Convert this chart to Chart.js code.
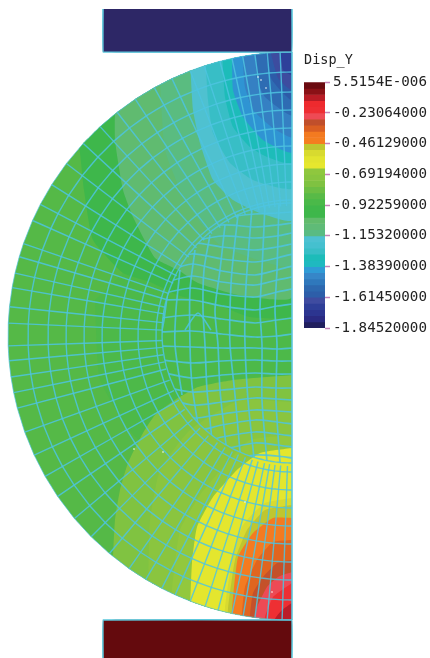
<!DOCTYPE html>
<html>
<head>
<meta charset="utf-8">
<script src="https://cdn.jsdelivr.net/npm/chart.js@4"></script>
<style>
  html, body { margin: 0; background: #fff; }
  canvas { position: absolute; }
  #field { left: 0; top: 0; }
  #legend { left: 300px; top: 40px; }
</style>
</head>
<body>
<canvas id="field" width="430" height="658"></canvas>
<canvas id="legend" width="130" height="300"></canvas>
<script>
// model frame: origin at disc centre, x to the right, y up
const discRadius = [284];
const arcRadii = [264, 244, 226, 208, 190, 172, 154, 136];
const nodeAngles = [-90, -88, -85, -82.5, -80.1, -77.8, -74.9, -72.2, -69, -65.7, -62.7, -59, -55, -50, -45, -40, -34.4, -29.6, -24.8, -19.8, -14.7, -11.5, -8.3, -5, -2,
  2.6, 5.9, 9.8, 12.8, 16.2, 19, 24, 27.6, 32.2, 37.4, 42.7, 47.5, 52, 56.5, 61, 65, 69, 72, 75.3, 77.8, 80, 82.5, 85, 87.6, 90];
const spokeInner = [130];

const coreCircle = [130, 3]; // radius, centre y
const coreRowX = [-132, -100, -70, -37, -15, 0];
const coreRowY = [
  [105, 112, 118, 122, 123, 124],
  [96, 104, 111, 109, 111, 113],
  [90, 95, 100, 98, 100, 103],
  [84, 93, 89, 86, 89, 92],
  [72, 82, 77, 74, 78, 82],
  [62, 72, 65, 61, 66, 70],
  [52, 60, 54, 51, 56, 59],
  [42, 48, 42, 39, 44, 47],
  [36, 36, 30, 26, 30, 32],
  [18, 21, 17, 13, 16, 18],
  [4, 5, 2, -1, 0, 2],
  [-10, -11, -12, -12, -13, -12],
  [-24, -27, -25, -24, -25, -25],
  [-36, -42, -39, -37, -38, -38],
  [-50, -56, -54, -51, -52, -52],
  [-60, -69, -66, -62, -63, -64],
  [-72, -82, -78, -74, -75, -76],
  [-84, -95, -89, -84, -86, -88],
  [-96, -108, -101, -96, -98, -100],
  [-100, -112, -113, -107, -109, -111],
  [-110, -120, -125, -119, -120, -122]
];
const coreCols = [
  [[-124, 46], [-128, 16], [-132, -9], [-127, -29], [-120, -49]],
  [[-112, 66], [-116, 26], [-117, -9], [-110, -59]],
  [[-97, 86], [-102, 46], [-102, -9], [-100, -49], [-94, -89]],
  [[-82, 101], [-88, 66], [-89, 26], [-87, -9], [-85, -54], [-80, -104]],
  [[-67, 111], [-72, 66], [-77, 26], [-74, -9], [-72, -54], [-66, -109]],
  [[-54, 121], [-60, 66], [-62, 26], [-62, -9], [-57, -59], [-52, -116]],
  [[-40, 128], [-45, 66], [-47, 26], [-47, -9], [-44, -64], [-38, -122]],
  [[-27, 131], [-30, 66], [-32, 26], [-30, -9], [-30, -64], [-25, -126]],
  [[-13, 133], [-15, 66], [-17, 26], [-15, -9], [-16, -64], [-12, -127]],
  [[-107, 6], [-94, 23], [-81, 6]]
];

// contour bands, painted in this order on top of the disc
const bandColors = ['#4db949', '#3eb74b', '#60bb70', '#5abc80', '#4fc1d0', '#38bec6', '#1dbcb9', '#2f94d3', '#3580c3', '#2e6cb3', '#2d5ba8', '#3d4c9f', '#2e409a',
  '#80c341', '#8ac53f', '#92c83d', '#e4e62e', '#d8da30', '#bfc62f', '#f47b20', '#e0651f', '#c4512a', '#ed4a55', '#ee2f33', '#bb1d28'];
const bands = [
  [[-169, 63], [-142, 54], [-112, 40], [-79, 33], [-42, 19], [0, 21], [0, -44], [-92, -54], [-152, -104], [-192, -44], [-197, 36]],
  [[-217, 206], [-212, 183], [-208, 146], [-199, 96], [-169, 63], [-142, 54], [-112, 40], [-79, 33], [-42, 19], [0, 21], [0, 336], [-217, 336]],
  [[-177, 236], [-177, 196], [-169, 146], [-159, 119], [-137, 78], [-114, 66], [-94, 53], [-54, 41], [0, 39], [0, 336], [-177, 336]],
  [[-132, 276], [-132, 256], [-127, 186], [-107, 136], [-72, 91], [0, 71], [0, 336], [-132, 336]],
  [[-102, 276], [-99, 226], [-92, 193], [-79, 156], [-59, 136], [-32, 123], [0, 116], [0, 336], [-102, 336]],
  [[-87, 286], [-84, 236], [-79, 203], [-62, 173], [-39, 156], [0, 148], [0, 336], [-87, 336]],
  [[-70, 286], [-67, 239], [-59, 209], [-42, 189], [-25, 179], [0, 173], [0, 336], [-70, 336]],
  [[-60, 286], [-59, 246], [-49, 219], [-29, 196], [0, 184], [0, 336], [-60, 336]],
  [[-50, 286], [-47, 249], [-39, 226], [-19, 208], [0, 199], [0, 336], [-50, 336]],
  [[-37, 286], [-35, 256], [-27, 239], [0, 221], [0, 336], [-37, 336]],
  [[-27, 286], [-20, 256], [0, 236], [0, 336], [-27, 336]],
  [[-22, 286], [-14, 258], [0, 246], [0, 336], [-22, 336]],
  [[-12, 286], [-9, 266], [0, 261], [0, 336], [-12, 336]],
  [[0, -39], [-59, -44], [-94, -51], [-117, -64], [-137, -79], [-149, -97], [-164, -127], [-172, -154], [-177, -184], [-179, -224], [-179, -304], [0, -304]],
  [[0, -66], [-52, -64], [-102, -94], [-132, -134], [-142, -184], [-144, -264], [-144, -304], [0, -304]],
  [[0, -99], [-42, -104], [-67, -129], [-92, -159], [-112, -194], [-120, -254], [-120, -304], [0, -304]],
  [[0, -112], [-32, -117], [-55, -134], [-79, -161], [-95, -191], [-100, -227], [-102, -274], [-102, -304], [0, -304]],
  [[0, -162], [-27, -167], [-49, -189], [-60, -224], [-67, -272], [-67, -304], [0, -304]],
  [[0, -169], [-27, -174], [-45, -194], [-57, -224], [-64, -273], [-64, -304], [0, -304]],
  [[0, -182], [-19, -182], [-39, -197], [-54, -221], [-60, -274], [-60, -304], [0, -304]],
  [[0, -204], [-19, -206], [-35, -224], [-47, -251], [-50, -276], [-50, -304], [0, -304]],
  [[0, -224], [-15, -227], [-29, -241], [-39, -257], [-42, -279], [-42, -304], [0, -304]],
  [[0, -236], [-14, -241], [-25, -251], [-35, -271], [-37, -281], [-37, -304], [0, -304]],
  [[0, -247], [-10, -254], [-19, -261], [-27, -281], [-27, -304], [0, -304]],
  [[0, -267], [-10, -274], [-17, -283], [-17, -304], [0, -304]]
];

const topPlaten = [[-189, 327], [-189, 284], [0, 284], [0, 327]];
const bottomPlaten = [[-189, -322], [-189, -284], [0, -284], [0, -322]];
const axisLine = [[0, 284], [0, -284]];
const specks = [[-34, 259], [-31, 256], [-26, 248], [-20, -256], [-129, -116], [-47, -166], [-158, -113]];

// colour bar
const levels = [0.0000055154, -0.04613, -0.09226, -0.13838, -0.18451, -0.23064, -0.27677, -0.3229, -0.36903, -0.41516, -0.46129, -0.50742, -0.55355, -0.59968, -0.64581, -0.69194,
  -0.73807, -0.7842, -0.83033, -0.87646, -0.92259, -0.96872, -1.01485, -1.06098, -1.10711, -1.1532, -1.19933, -1.24546, -1.29159, -1.33772, -1.3839, -1.43002, -1.47615, -1.52228, -1.56841, -1.6145,
  -1.66063, -1.70676, -1.75289, -1.79902, -1.8452];
const levelColors = ['#6b0a10', '#8a1116', '#b81c25', '#ee2a2e', '#ee2e33', '#ee4a55', '#c04f2b', '#da5f22', '#f37a20', '#f47e20',
  '#bec730', '#d8da2f', '#e2e42f', '#e6e72e', '#8fc73e', '#88c53f', '#7fc241', '#6cbe44', '#58ba47', '#4ab949',
  '#3fb74a', '#3eb74b', '#62bb6c', '#5fbb77', '#59bb83', '#4dc1d2', '#45c0cf', '#38bec6', '#1dbcb9', '#1fb9c0',
  '#2f9bd6', '#3686c8', '#2f78bc', '#2d68af', '#2d5ea9', '#3f4ca0', '#2e3f98', '#2c3590', '#2a2a82', '#211f5e'];
const tickValues = [0.0000055154, -0.23064, -0.46129, -0.69194, -0.92259, -1.1532, -1.3839, -1.6145, -1.8452];
const tickLabels = ['5.5154E-006', '-0.23064000', '-0.46129000', '-0.69194000', '-0.92259000', '-1.15320000', '-1.38390000', '-1.61450000', '-1.84520000'];

const meshColor = 'rgba(78,196,224,0.85)';
const edgeColor = '#5cc8dc';
const font = 'DejaVu Sans Mono';

const polar = (r, deg, cy = 0) => {
  const a = deg * Math.PI / 180;
  return { x: -r * Math.cos(a), y: cy + r * Math.sin(a) };
};
const toPoints = list => list.map(p => ({ x: p[0], y: p[1] }));

const fieldSets = [];
const region = (label, data, color, clipTo, tension = 0.01) => fieldSets.push({
  label, data, regionColor: color, clipTo, showLine: true, borderWidth: 0, borderColor: 'transparent', pointRadius: 0, tension
});
const meshLine = (data, clipTo, width = 1.4, color = meshColor, tension = 0.01) => fieldSets.push({
  data, clipTo, showLine: true, borderWidth: width, borderColor: color, pointRadius: 0, tension
});

region('disc', nodeAngles.map(a => polar(discRadius[0], a)), '#55b947');
region('core', nodeAngles.map(a => polar(coreCircle[0], a, coreCircle[1])), 'transparent');
bands.forEach((b, i) => region('band' + i, toPoints(b), bandColors[i], 'disc', 0.15));
region('topPlaten', toPoints(topPlaten), '#2d2766');
region('bottomPlaten', toPoints(bottomPlaten), '#640a0d');

arcRadii.forEach(r => meshLine(nodeAngles.map(a => polar(r, a))));
nodeAngles.slice(1, -1).forEach(a => meshLine([polar(spokeInner[0], a), polar(discRadius[0], a)]));
meshLine(nodeAngles.map(a => polar(coreCircle[0], a, coreCircle[1])));
coreRowY.forEach(row => meshLine(row.map((y, i) => ({ x: coreRowX[i], y })), 'core', 1.7, meshColor, 0.25));
coreCols.forEach(col => meshLine(toPoints(col), 'core', 1.7, meshColor, 0.25));
meshLine(nodeAngles.map(a => polar(discRadius[0], a)), undefined, 1, 'rgba(80,195,222,0.7)');
meshLine(toPoints(axisLine), undefined, 1.6, edgeColor);
meshLine(toPoints(topPlaten), undefined, 1.6, edgeColor);
meshLine(toPoints(bottomPlaten), undefined, 1.6, edgeColor);
fieldSets.push({ data: toPoints(specks), pointRadius: 0.8, pointBackgroundColor: '#fff', pointBorderWidth: 0 });
fieldSets.forEach((ds, i) => { ds.order = fieldSets.length - i; });

const tracePath = (chart, label) => {
  const i = chart.data.datasets.findIndex(ds => ds.label === label);
  const ctx = chart.ctx;
  ctx.beginPath();
  chart.getDatasetMeta(i).dataset.path(ctx);
  ctx.closePath();
};

const regionPlugin = {
  id: 'regionFill',
  beforeDatasetDraw(chart, args) {
    const ds = chart.data.datasets[args.index];
    const ctx = chart.ctx;
    ctx.save();
    if (ds.clipTo) {
      tracePath(chart, ds.clipTo);
      ctx.clip();
    }
    if (ds.regionColor) {
      tracePath(chart, ds.label);
      ctx.fillStyle = ds.regionColor;
      ctx.fill();
    }
  },
  afterDatasetDraw(chart) {
    chart.ctx.restore();
  }
};

new Chart(document.getElementById('field'), {
  type: 'scatter',
  data: { datasets: fieldSets },
  plugins: [regionPlugin],
  options: {
    responsive: false,
    animation: false,
    events: [],
    layout: { padding: 0, autoPadding: false },
    plugins: { legend: { display: false }, tooltip: { enabled: false } },
    scales: {
      x: { type: 'linear', min: -292, max: 138, display: false },
      y: { type: 'linear', min: -322, max: 336, display: false }
    }
  }
});

new Chart(document.getElementById('legend'), {
  type: 'bar',
  data: {
    labels: ['Disp_Y'],
    datasets: levelColors.map((c, i) => ({ data: [[levels[i + 1], levels[i]]], backgroundColor: c, barPercentage: 1, categoryPercentage: 1, grouped: false }))
  },
  options: {
    responsive: false,
    animation: false,
    events: [],
    layout: { padding: { left: 4, top: 0, bottom: 12 } },
    plugins: {
      legend: { display: false },
      tooltip: { enabled: false },
      title: { display: true, text: 'Disp_Y', align: 'start', color: '#222', font: { family: font, size: 13.5, weight: 'normal' }, padding: { top: 12, bottom: 14 } }
    },
    scales: {
      x: { display: false },
      y: {
        position: 'right',
        min: -1.8452,
        max: 0.0000055154,
        afterBuildTicks: axis => { axis.ticks = tickValues.map(value => ({ value })); },
        afterFit: axis => { axis.width = 105; },
        grid: { drawOnChartArea: false, color: '#c583b8', tickLength: 5, tickWidth: 1.5 },
        border: { display: false },
        ticks: {
          autoSkip: false,
          maxRotation: 0,
          padding: 3,
          color: '#222',
          font: { family: font, size: 14.2 },
          callback: (value, i) => tickLabels[i]
        }
      }
    }
  }
});
</script>
</body>
</html>
